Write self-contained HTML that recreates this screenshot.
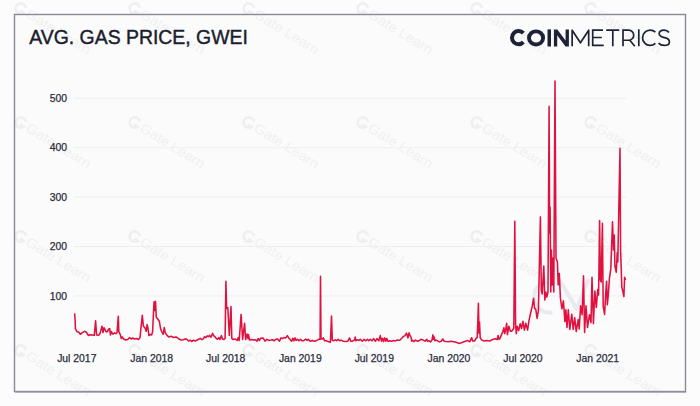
<!DOCTYPE html>
<html><head><meta charset="utf-8">
<style>
html,body{margin:0;padding:0;width:700px;height:406px;overflow:hidden;background:#fcfcfc;}
svg{position:absolute;left:0;top:0;display:block;}
.g{stroke:#eeeef0;stroke-width:1;}
.yl{font-family:"Liberation Sans",sans-serif;font-size:10.4px;fill:#2a2d3c;stroke:#2a2d3c;stroke-width:0.25px;text-anchor:end;}
.xl{font-family:"Liberation Sans",sans-serif;font-size:10.4px;fill:#2a2d3c;stroke:#2a2d3c;stroke-width:0.25px;text-anchor:middle;}
.wm{font-family:"Liberation Sans",sans-serif;font-size:13.5px;fill:#f0f0f2;}
.logo{fill:none;stroke:#1e2236;}
</style></head><body>
<svg width="700" height="406" viewBox="0 0 700 406">
<rect x="0" y="0" width="700" height="406" fill="#fcfcfc"/>
<rect x="14.5" y="14.5" width="671" height="377" fill="#fbfbfb"/>
<g transform="translate(20.7,8.5) rotate(31.5)"><path d="M4.2 -3.2 A5.2 5.2 0 1 0 4.8 2.2 L0.6 2.2" fill="none" stroke="#efeff2" stroke-width="2.6"/><text x="8" y="4.6" class="wm" textLength="73" lengthAdjust="spacingAndGlyphs">Gate Learn</text></g>
<g transform="translate(134.7,8.5) rotate(31.5)"><path d="M4.2 -3.2 A5.2 5.2 0 1 0 4.8 2.2 L0.6 2.2" fill="none" stroke="#efeff2" stroke-width="2.6"/><text x="8" y="4.6" class="wm" textLength="73" lengthAdjust="spacingAndGlyphs">Gate Learn</text></g>
<g transform="translate(248.7,8.5) rotate(31.5)"><path d="M4.2 -3.2 A5.2 5.2 0 1 0 4.8 2.2 L0.6 2.2" fill="none" stroke="#efeff2" stroke-width="2.6"/><text x="8" y="4.6" class="wm" textLength="73" lengthAdjust="spacingAndGlyphs">Gate Learn</text></g>
<g transform="translate(362.7,8.5) rotate(31.5)"><path d="M4.2 -3.2 A5.2 5.2 0 1 0 4.8 2.2 L0.6 2.2" fill="none" stroke="#efeff2" stroke-width="2.6"/><text x="8" y="4.6" class="wm" textLength="73" lengthAdjust="spacingAndGlyphs">Gate Learn</text></g>
<g transform="translate(476.7,8.5) rotate(31.5)"><path d="M4.2 -3.2 A5.2 5.2 0 1 0 4.8 2.2 L0.6 2.2" fill="none" stroke="#efeff2" stroke-width="2.6"/><text x="8" y="4.6" class="wm" textLength="73" lengthAdjust="spacingAndGlyphs">Gate Learn</text></g>
<g transform="translate(590.7,8.5) rotate(31.5)"><path d="M4.2 -3.2 A5.2 5.2 0 1 0 4.8 2.2 L0.6 2.2" fill="none" stroke="#efeff2" stroke-width="2.6"/><text x="8" y="4.6" class="wm" textLength="73" lengthAdjust="spacingAndGlyphs">Gate Learn</text></g>
<g transform="translate(20.7,122.5) rotate(31.5)"><path d="M4.2 -3.2 A5.2 5.2 0 1 0 4.8 2.2 L0.6 2.2" fill="none" stroke="#efeff2" stroke-width="2.6"/><text x="8" y="4.6" class="wm" textLength="73" lengthAdjust="spacingAndGlyphs">Gate Learn</text></g>
<g transform="translate(134.7,122.5) rotate(31.5)"><path d="M4.2 -3.2 A5.2 5.2 0 1 0 4.8 2.2 L0.6 2.2" fill="none" stroke="#efeff2" stroke-width="2.6"/><text x="8" y="4.6" class="wm" textLength="73" lengthAdjust="spacingAndGlyphs">Gate Learn</text></g>
<g transform="translate(248.7,122.5) rotate(31.5)"><path d="M4.2 -3.2 A5.2 5.2 0 1 0 4.8 2.2 L0.6 2.2" fill="none" stroke="#efeff2" stroke-width="2.6"/><text x="8" y="4.6" class="wm" textLength="73" lengthAdjust="spacingAndGlyphs">Gate Learn</text></g>
<g transform="translate(362.7,122.5) rotate(31.5)"><path d="M4.2 -3.2 A5.2 5.2 0 1 0 4.8 2.2 L0.6 2.2" fill="none" stroke="#efeff2" stroke-width="2.6"/><text x="8" y="4.6" class="wm" textLength="73" lengthAdjust="spacingAndGlyphs">Gate Learn</text></g>
<g transform="translate(476.7,122.5) rotate(31.5)"><path d="M4.2 -3.2 A5.2 5.2 0 1 0 4.8 2.2 L0.6 2.2" fill="none" stroke="#efeff2" stroke-width="2.6"/><text x="8" y="4.6" class="wm" textLength="73" lengthAdjust="spacingAndGlyphs">Gate Learn</text></g>
<g transform="translate(590.7,122.5) rotate(31.5)"><path d="M4.2 -3.2 A5.2 5.2 0 1 0 4.8 2.2 L0.6 2.2" fill="none" stroke="#efeff2" stroke-width="2.6"/><text x="8" y="4.6" class="wm" textLength="73" lengthAdjust="spacingAndGlyphs">Gate Learn</text></g>
<g transform="translate(20.7,236.5) rotate(31.5)"><path d="M4.2 -3.2 A5.2 5.2 0 1 0 4.8 2.2 L0.6 2.2" fill="none" stroke="#efeff2" stroke-width="2.6"/><text x="8" y="4.6" class="wm" textLength="73" lengthAdjust="spacingAndGlyphs">Gate Learn</text></g>
<g transform="translate(134.7,236.5) rotate(31.5)"><path d="M4.2 -3.2 A5.2 5.2 0 1 0 4.8 2.2 L0.6 2.2" fill="none" stroke="#efeff2" stroke-width="2.6"/><text x="8" y="4.6" class="wm" textLength="73" lengthAdjust="spacingAndGlyphs">Gate Learn</text></g>
<g transform="translate(248.7,236.5) rotate(31.5)"><path d="M4.2 -3.2 A5.2 5.2 0 1 0 4.8 2.2 L0.6 2.2" fill="none" stroke="#efeff2" stroke-width="2.6"/><text x="8" y="4.6" class="wm" textLength="73" lengthAdjust="spacingAndGlyphs">Gate Learn</text></g>
<g transform="translate(362.7,236.5) rotate(31.5)"><path d="M4.2 -3.2 A5.2 5.2 0 1 0 4.8 2.2 L0.6 2.2" fill="none" stroke="#efeff2" stroke-width="2.6"/><text x="8" y="4.6" class="wm" textLength="73" lengthAdjust="spacingAndGlyphs">Gate Learn</text></g>
<g transform="translate(476.7,236.5) rotate(31.5)"><path d="M4.2 -3.2 A5.2 5.2 0 1 0 4.8 2.2 L0.6 2.2" fill="none" stroke="#efeff2" stroke-width="2.6"/><text x="8" y="4.6" class="wm" textLength="73" lengthAdjust="spacingAndGlyphs">Gate Learn</text></g>
<g transform="translate(590.7,236.5) rotate(31.5)"><path d="M4.2 -3.2 A5.2 5.2 0 1 0 4.8 2.2 L0.6 2.2" fill="none" stroke="#efeff2" stroke-width="2.6"/><text x="8" y="4.6" class="wm" textLength="73" lengthAdjust="spacingAndGlyphs">Gate Learn</text></g>
<g transform="translate(20.7,350.5) rotate(31.5)"><path d="M4.2 -3.2 A5.2 5.2 0 1 0 4.8 2.2 L0.6 2.2" fill="none" stroke="#efeff2" stroke-width="2.6"/><text x="8" y="4.6" class="wm" textLength="73" lengthAdjust="spacingAndGlyphs">Gate Learn</text></g>
<g transform="translate(134.7,350.5) rotate(31.5)"><path d="M4.2 -3.2 A5.2 5.2 0 1 0 4.8 2.2 L0.6 2.2" fill="none" stroke="#efeff2" stroke-width="2.6"/><text x="8" y="4.6" class="wm" textLength="73" lengthAdjust="spacingAndGlyphs">Gate Learn</text></g>
<g transform="translate(248.7,350.5) rotate(31.5)"><path d="M4.2 -3.2 A5.2 5.2 0 1 0 4.8 2.2 L0.6 2.2" fill="none" stroke="#efeff2" stroke-width="2.6"/><text x="8" y="4.6" class="wm" textLength="73" lengthAdjust="spacingAndGlyphs">Gate Learn</text></g>
<g transform="translate(362.7,350.5) rotate(31.5)"><path d="M4.2 -3.2 A5.2 5.2 0 1 0 4.8 2.2 L0.6 2.2" fill="none" stroke="#efeff2" stroke-width="2.6"/><text x="8" y="4.6" class="wm" textLength="73" lengthAdjust="spacingAndGlyphs">Gate Learn</text></g>
<g transform="translate(476.7,350.5) rotate(31.5)"><path d="M4.2 -3.2 A5.2 5.2 0 1 0 4.8 2.2 L0.6 2.2" fill="none" stroke="#efeff2" stroke-width="2.6"/><text x="8" y="4.6" class="wm" textLength="73" lengthAdjust="spacingAndGlyphs">Gate Learn</text></g>
<g transform="translate(590.7,350.5) rotate(31.5)"><path d="M4.2 -3.2 A5.2 5.2 0 1 0 4.8 2.2 L0.6 2.2" fill="none" stroke="#efeff2" stroke-width="2.6"/><text x="8" y="4.6" class="wm" textLength="73" lengthAdjust="spacingAndGlyphs">Gate Learn</text></g>

<rect x="14.5" y="14.5" width="671" height="377" fill="none" stroke="#8a8a96" stroke-width="1.4"/>
<line x1="15" y1="392.3" x2="686.2" y2="392.3" stroke="#a4a4ae" stroke-width="1"/>
<path d="M547 281.5 A15.5 15.5 0 0 0 552.5 312.5" fill="none" stroke="#e7eaf1" stroke-width="4"/><path d="M559 279 L576.7 309 L588.5 279" fill="none" stroke="#e7eaf1" stroke-width="4" stroke-linejoin="round"/>
<text x="29.3" y="44" textLength="218.5" lengthAdjust="spacingAndGlyphs" style="font-family:'Liberation Sans',sans-serif;font-size:21px;fill:#1b1e2e;stroke:#1b1e2e;stroke-width:0.45px">AVG. GAS PRICE, GWEI</text>
<line x1="74" y1="98.3" x2="626" y2="98.3" class="g"/>
<text x="67" y="102.0" class="yl">500</text>
<line x1="74" y1="147.7" x2="626" y2="147.7" class="g"/>
<text x="67" y="151.4" class="yl">400</text>
<line x1="74" y1="197.1" x2="626" y2="197.1" class="g"/>
<text x="67" y="200.8" class="yl">300</text>
<line x1="74" y1="246.5" x2="626" y2="246.5" class="g"/>
<text x="67" y="250.2" class="yl">200</text>
<line x1="74" y1="295.9" x2="626" y2="295.9" class="g"/>
<text x="67" y="299.6" class="yl">100</text>

<text x="76.8" y="361.5" class="xl">Jul 2017</text>
<text x="151.7" y="361.5" class="xl">Jan 2018</text>
<text x="225.7" y="361.5" class="xl">Jul 2018</text>
<text x="300.3" y="361.5" class="xl">Jan 2019</text>
<text x="374.3" y="361.5" class="xl">Jul 2019</text>
<text x="449" y="361.5" class="xl">Jan 2020</text>
<text x="523" y="361.5" class="xl">Jul 2020</text>
<text x="597.7" y="361.5" class="xl">Jan 2021</text>

<path d="M74.6 313.4 L75.1 319.8 L75.4 328.6 L76.9 331.6 L78.9 332.3 L80.3 334.3 L82.3 332.6 L84.5 331.3 L86.5 332.3 L88.4 335.5 L89.9 334.8 L92.4 335 L94.3 335.3 L95.6 320.8 L96.6 335 L98.6 335.2 L100 333.6 L102 326.2 L103 332.6 L104 327.7 L106 331.6 L107.5 331.6 L108.5 329.1 L109.7 328.6 L110.4 335 L111.4 331.6 L112.9 334.1 L114.4 333.1 L115.9 333.6 L117 332.6 L118.3 316.3 L118.8 331.6 L120.3 334.6 L121.3 338.5 L122.3 337 L123.7 339 L125.7 340 L127.7 339.5 L129.6 337.5 L131.1 339 L132.6 338 L134.6 339 L136.5 338.5 L138.5 339.5 L140 337.5 L141 327.7 L142.3 315.3 L143.4 326.2 L144.9 327.7 L146.2 331.3 L147.1 324.6 L147.9 327.6 L148.9 335.6 L150.2 334.4 L151.6 335 L152.6 332 L153.6 309.8 L154.1 301.8 L154.7 310.4 L155.5 301.2 L156.3 317.2 L157.8 319 L159.4 321.5 L160.6 328.9 L161.9 332 L163.1 334.4 L164.3 327.6 L165.2 332.6 L166.8 335 L168.6 336.9 L171.1 336.3 L173.6 337.5 L176 336.9 L178.5 338.7 L181 340 L183.4 339.7 L185.2 338.9 L186.9 339.3 L188.6 341 L190.3 340.2 L191.6 341.5 L193.4 340.2 L195.1 341 L196.8 340.2 L198.5 339.3 L200.3 338.4 L202 339.7 L203.3 338.9 L204.6 336.7 L205.9 337.6 L207.2 335.9 L208.4 336.7 L209.7 335.4 L211 337.2 L212.6 333.3 L213.8 335.9 L214.9 336.7 L216.2 338.4 L217.5 339.3 L218.8 337.6 L219.9 339.5 L221.4 335.5 L222.4 339 L223.9 339.5 L225.1 338.5 L225.9 281.2 L226.6 307.5 L227.3 309 L227.8 307.5 L229.3 335.5 L231 306.5 L231.8 338.5 L233.2 339.5 L235.2 339 L237.2 340.5 L238.2 337.5 L239.2 340.5 L241.1 314.4 L242.6 339.5 L244.6 323.2 L245.6 339.5 L247 334 L248 338.5 L248.5 334.6 L249.5 340 L251.5 339.5 L253.4 340 L255.5 339.7 L257 341.2 L258.1 338.6 L259.5 340.4 L260.6 338.2 L262.9 337.9 L264 339.3 L265.1 341.2 L266.9 339.3 L268.8 340.4 L271 340.1 L272.5 339.7 L274 340.8 L275.8 339.3 L277.6 339 L279.5 341.2 L281 337.9 L282.4 338.6 L283.9 337.5 L285.8 337.9 L287.4 335.6 L288.7 337.9 L290.6 340.1 L291.7 341.2 L292.8 338.2 L293.9 340.8 L295 337.9 L296.1 340.4 L297.6 339.3 L299 340.8 L300.5 339.3 L302 340.8 L303.5 340.8 L305.7 339 L307.2 340.4 L308.3 339.3 L310.1 341.2 L312.3 340.4 L314.6 341.2 L316.8 340.4 L318.6 339.3 L320.1 339.3 L320.5 276.3 L321 339 L322.3 339 L323.4 337.9 L324.5 340.8 L326.4 340.8 L328.2 341.6 L330.4 342.3 L331.5 316.1 L332.3 340.1 L333.8 340.8 L335.6 339.7 L336.7 340.8 L338.2 339.3 L339.7 340.8 L341.1 340.1 L343.4 341.2 L345.6 341.6 L347.8 341.2 L349.6 337.9 L350.7 341.2 L352.2 341.2 L354.4 340.1 L355.2 337.1 L355.9 340.8 L357.4 339.7 L358.9 340.4 L360.3 339.3 L362.2 341.2 L364 339.3 L365.9 340.8 L367.4 339.3 L368.8 340.8 L370.3 339.3 L372.2 340.8 L373.6 338.6 L375.5 341.2 L377 338.6 L378.8 340.8 L380.3 335.6 L381.4 341.2 L382.5 338.2 L383.6 341.6 L384.7 337.9 L385.8 341.2 L386.7 338.4 L388 341.4 L389.9 340.8 L391.7 341.2 L393.6 340.6 L395.4 340.9 L397.3 340 L398.7 340.3 L399.8 340.2 L401.7 338.3 L403.5 336.4 L405 335.6 L406.5 333.1 L407.2 335.3 L408 337.9 L409.1 332.7 L409.8 335.3 L411.1 337.1 L411.7 341.2 L412.8 340.4 L413.9 341.6 L415.4 340.1 L417.2 341.2 L419 340.8 L420.9 339.3 L423.1 340.1 L425 341.2 L426.8 339.3 L427.5 341.2 L429 340.8 L430.5 341.9 L432 340.1 L432.9 334.9 L433.6 339.3 L434.2 337.1 L434.9 340.8 L436 340.1 L437.5 340.8 L439.4 341.9 L441.2 341.2 L442.7 339 L444.2 341.2 L446 341.6 L448.2 341.7 L451 341.2 L453.8 341.7 L456 342.3 L459.3 343.4 L462.6 342.3 L465.4 341.2 L467.6 340.6 L469.8 341.7 L471.7 337.7 L472.6 341 L474.6 341 L476.2 338.2 L477.2 337.5 L477.8 322 L478.4 303.3 L479 333.3 L479.5 322 L480.2 337.6 L481.5 339.9 L484.2 341 L487 340.5 L489.8 341 L492.6 339.4 L495.3 338.8 L497.2 339.4 L498.1 335.5 L499 339.4 L500 338.5 L501.5 334.6 L503 331.1 L503.9 327.7 L504.7 333.6 L505.7 329.6 L506.7 323.2 L507.4 334.6 L508.9 326.2 L510.3 331.1 L511.8 331.1 L513.8 328.2 L514.8 221.2 L515.6 324.7 L516.3 333.6 L517.2 326.2 L518.7 330.6 L520.2 323.7 L521.5 328.6 L522.9 321.3 L524.4 330.1 L525.8 323.2 L527.6 330.1 L528.8 321.7 L530.2 315 L531.2 310.5 L532.2 306.4 L533.6 298.2 L534.5 308.1 L535.8 309.4 L537.1 318.4 L538.4 310.7 L540.4 216.9 L541.3 290 L542.2 294 L543.8 266 L544.8 300 L545.8 292 L546.8 297 L548 292 L549.1 106.3 L549.6 233 L550.1 207 L550.8 292 L551.4 250 L552.2 285 L553 258 L553.8 292 L555 81.1 L556 258 L557.4 262 L558.2 285 L559.3 273.4 L560.4 298 L561.9 308.8 L563.4 300.9 L564.9 321.6 L565.9 309.8 L567 327.5 L568.3 309.8 L569.8 329.5 L571.8 314.2 L573.2 329.5 L574.7 317.7 L576.2 331.5 L578.2 319.6 L579.2 329 L580.6 305.8 L582.1 314.7 L583.5 275.8 L584.6 332.4 L586 305.8 L587.5 327.5 L589.5 314.7 L591 322.6 L592 277.2 L593.4 323.6 L594.9 291 L596.3 307.5 L597.7 289.6 L598.6 295 L599.6 220.5 L600.4 280 L601.2 282 L602.4 223.2 L603.2 306 L604.6 314.4 L605.6 295 L606.6 281.3 L607.3 304.8 L608.3 295 L609.4 278.6 L610.8 268.9 L612.5 221.8 L613.5 250 L614.3 235 L614.9 266 L616.3 272.3 L617.2 252.7 L617.8 262 L620 148.2 L620.6 250 L621.2 268 L621.8 286.8 L623 292 L623.9 296.5 L624.6 277.2 L625.5 280" fill="none" stroke="#e0113f" stroke-width="1.55" stroke-linejoin="round"/>
<!-- logo -->
<g class="logo">
<path d="M523.4 33.2 A6.6 6.6 0 1 0 523.4 42.2" stroke-width="4" />
<ellipse cx="536.05" cy="37.95" rx="7.05" ry="6.6" stroke-width="3.9"/>
<rect x="547.5" y="29.4" width="3.5" height="17.1" fill="#1e2236" stroke="none"/>
<polygon points="553.9,46.5 553.9,29.4 557.3,29.4 565.6,40.6 565.6,29.4 568.9,29.4 568.9,46.5 565.5,46.5 557.2,35.3 557.2,46.5" fill="#1e2236" stroke="none"/>
<path d="M572.15 46.2 V30.2 L580.4 42.8 L588.7 30.2 V46.2" stroke-width="1.7" stroke-linejoin="round"/>
<path d="M603 30.15 H592.7 V45.45 H603.7 M592.7 37.5 H601.8" stroke-width="1.7"/>
<path d="M606.25 30.05 H619.3 M612.8 30.05 V46.2" stroke-width="1.7"/>
<path d="M623 46.2 V30.05 H628.6 A5.1 5.1 0 0 1 628.6 40.25 H623 M629.8 40.2 L634.8 46.2" stroke-width="1.7"/>
<path d="M638.8 29.3 V46.2" stroke-width="1.7"/>
<path d="M655.4 32.2 A7.6 7.7 0 1 0 655.4 43.3" stroke-width="1.7"/>
<path d="M669 32.4 C667.8 30.8 666 30.1 664.1 30.1 C661 30.1 659.2 31.8 659.2 33.8 C659.2 36.5 662 37.1 664.6 37.7 C667.3 38.3 669.4 39.3 669.4 41.9 C669.4 44 667.4 45.4 664.2 45.4 C661.8 45.4 659.8 44.5 658.6 43.1" stroke-width="1.7"/>

</g>
</svg>
</body></html>
